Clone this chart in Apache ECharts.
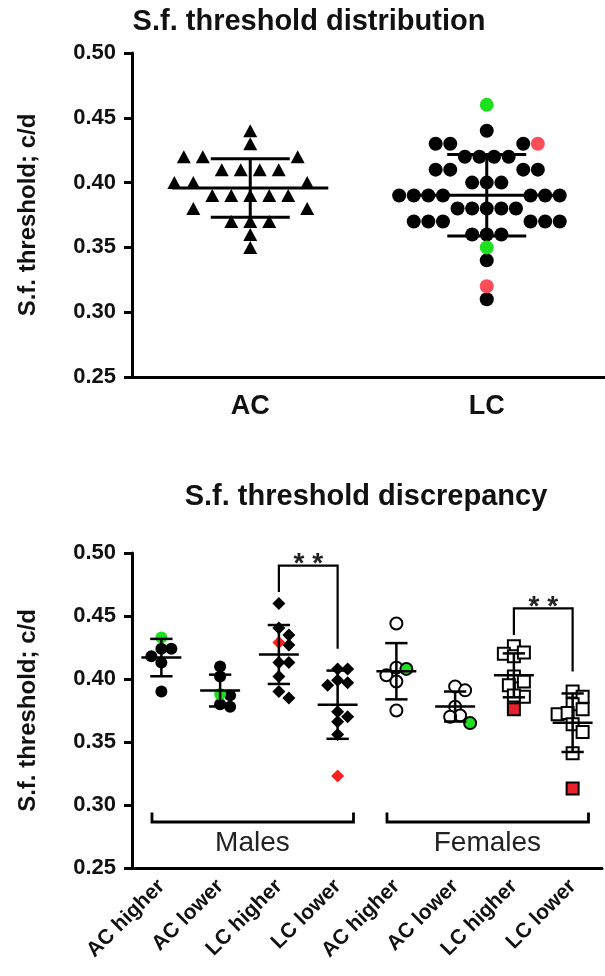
<!DOCTYPE html>
<html><head><meta charset="utf-8">
<script src="https://cdn.jsdelivr.net/npm/echarts@6/dist/echarts.min.js"></script>
<style>html,body{margin:0;padding:0;background:#fff}#c{width:605px;height:976px}</style>
</head><body><div id="c"></div>
<script>
// ================= DATA =================
var topTitle = 'S.f. threshold distribution';
var bottomTitle = 'S.f. threshold discrepancy';
var yAxisName = 'S.f. threshold; c/d';

var topCategories = ['AC', 'LC'];
var acValues = [0.44, 0.43, 0.42, 0.42, 0.42, 0.41, 0.41, 0.41, 0.41, 0.40, 0.40, 0.40,
                0.39, 0.39, 0.39, 0.39, 0.39, 0.38, 0.38, 0.37, 0.37, 0.37, 0.36, 0.35];
var lcBlack = [0.44, 0.43, 0.43, 0.43, 0.42, 0.42, 0.42, 0.42, 0.41, 0.41, 0.41, 0.41,
               0.40, 0.40, 0.40, 0.39, 0.39, 0.39, 0.39, 0.39, 0.39, 0.39,
               0.38, 0.38, 0.38, 0.38, 0.38, 0.37, 0.37, 0.37, 0.37, 0.37, 0.37,
               0.36, 0.36, 0.36, 0.34, 0.31];
var lcRed = [0.43, 0.32];
var lcGreen = [0.46, 0.35];

var discCategories = ['AC higher', 'AC lower', 'LC higher', 'LC lower',
                      'AC higher', 'AC lower', 'LC higher', 'LC lower'];
var sexGroups = ['Males', 'Females'];
var sexGroupRanges = [[0, 3], [4, 7]];
// per category: plain points, then highlighted points
var mAcHigher = [0.424, 0.424, 0.418, 0.413, 0.390];      var mAcHigherHi = [0.433];
var mAcLower  = [0.410, 0.402, 0.387, 0.378, 0.380];      var mAcLowerHi  = [0.388];
var mLcHigher = [0.460, 0.4405, 0.435, 0.427, 0.413, 0.413, 0.402, 0.390, 0.385]; var mLcHigherHi = [0.429];
var mLcLower  = [0.408, 0.408, 0.399, 0.397, 0.395, 0.374, 0.370, 0.366, 0.356]; var mLcLowerHi  = [0.323];
var fAcHigher = [0.444, 0.409, 0.403, 0.398, 0.375];      var fAcHigherHi = [0.408];
var fAcLower  = [0.394, 0.391, 0.378, 0.371, 0.370];      var fAcLowerHi  = [0.365];
var fLcHigher = [0.426, 0.420, 0.418, 0.421, 0.402, 0.398, 0.395, 0.386, 0.387]; var fLcHigherHi = [0.376];
var fLcLower  = [0.390, 0.386, 0.380, 0.376, 0.372, 0.373, 0.364, 0.358, 0.341]; var fLcLowerHi  = [0.313];
var sigComparisons = [[2, 3, '* *'], [6, 7, '* *']];

// ================= LAYOUT / STYLE =================
var FONT = '"Liberation Sans", Arial, sans-serif';
var G0 = {left: 132, top: 53, width: 486, height: 324};
var G1 = {left: 132, top: 553, width: 470, height: 315};
var YMIN = 0.25, YMAX = 0.50;

function mean(a){ var s = 0; a.forEach(function(v){ s += v; }); return s / a.length; }
function sd(a){ var m = mean(a), s = 0; a.forEach(function(v){ s += (v - m) * (v - m); }); return Math.sqrt(s / (a.length - 1)); }

// row-based dot-plot layout (returns x offsets in category units)
function rowLayout(vals, slotPx, bandPx){
  var m = mean(vals);
  var rows = {};
  vals.forEach(function(v, i){ var k = Math.round(v * 100); (rows[k] = rows[k] || []).push(i); });
  var meanKey = Math.round(m * 100);
  function isSplit(k){ return Math.abs(k - meanKey) % 2 === 0 && rows[k] && rows[k].length > 1; }
  function half(k){ var r = rows[k]; if (!r || isSplit(k)) return 0; return (r.length - 1) / 2 * slotPx; }
  var out = new Array(vals.length);
  Object.keys(rows).forEach(function(ks){
    var k = +ks, r = rows[k], n = r.length;
    if (!isSplit(k)) {
      r.forEach(function(i, j){ out[i] = (j - (n - 1) / 2) * slotPx / bandPx; });
    } else {
      var H = Math.max(half(k - 1), half(k + 1));
      var start = H + slotPx;
      r.forEach(function(i, j){
        var side = (j % 2 === 0) ? -1 : 1;
        out[i] = side * (start + Math.floor(j / 2) * slotPx) / bandPx;
      });
    }
  });
  return out;
}
// generic beeswarm (returns x offsets in category units)
function beeswarm(vals, pxY, bandPx, d){
  var idx = vals.map(function(v, i){ return i; }).sort(function(a, b){ return vals[b] - vals[a]; });
  var placed = [], out = new Array(vals.length);
  idx.forEach(function(i){
    var y = vals[i] * pxY;
    for (var k = 0; k < 400; k++) {
      var off = (k === 0) ? 0 : ((k % 2 === 1) ? 1 : -1) * Math.ceil(k / 2) * d / 2;
      var ok = placed.every(function(p){ var dx = p[0] - off, dy = p[1] - y; return dx * dx + dy * dy >= d * d * 0.999; });
      if (ok) { placed.push([off, y]); out[i] = off / bandPx; break; }
    }
  });
  return out;
}
function errRender(lw, mHalf, cHalf){
  return function(params, api){
    var x = api.value(0), m = api.value(1), s = api.value(2);
    var c = api.coord([x, m]), t = api.coord([x, m + s]), b = api.coord([x, m - s]);
    var u = api.size([1, 0])[0];
    var mw = mHalf * u, cw = cHalf * u;
    var st = {stroke: '#000', lineWidth: lw};
    return {type: 'group', children: [
      {type: 'line', shape: {x1: t[0], y1: t[1], x2: b[0], y2: b[1]}, style: st},
      {type: 'line', shape: {x1: c[0] - mw, y1: c[1], x2: c[0] + mw, y2: c[1]}, style: st},
      {type: 'line', shape: {x1: t[0] - cw, y1: t[1], x2: t[0] + cw, y2: t[1]}, style: st},
      {type: 'line', shape: {x1: b[0] - cw, y1: b[1], x2: b[0] + cw, y2: b[1]}, style: st}
    ]};
  };
}

var series = [];
// ---------- top chart ----------
var band0 = G0.width / topCategories.length;
(function(){
  var acOff = rowLayout(acValues, 19.5, band0);
  series.push({type: 'scatter', xAxisIndex: 1, yAxisIndex: 0, symbol: 'triangle', symbolSize: [14, 13],
    itemStyle: {color: '#000', opacity: 1}, z: 2,
    data: acValues.map(function(v, i){ return [0 + acOff[i], v]; })});
  var lcAll = lcBlack.concat(lcRed, lcGreen);
  var tags = lcBlack.map(function(){ return 'k'; }).concat(lcRed.map(function(){ return 'r'; }), lcGreen.map(function(){ return 'g'; }));
  var lcOff = rowLayout(lcAll, 15, band0);
  var cols = {k: '#000', r: '#ff4d57', g: '#1fe01f'};
  ['k', 'r', 'g'].forEach(function(t){
    series.push({type: 'scatter', xAxisIndex: 1, yAxisIndex: 0, symbol: 'circle', symbolSize: 14,
      itemStyle: {color: cols[t], opacity: 1}, z: 2,
      data: lcAll.map(function(v, i){ return tags[i] === t ? [1 + lcOff[i], v] : null; }).filter(Boolean)});
  });
  series.push({type: 'custom', xAxisIndex: 1, yAxisIndex: 0, z: 3, encode: {x: 0, y: 1},
    renderItem: errRender(3, 0.33, 0.167),
    data: [[0, mean(acValues), sd(acValues)], [1, mean(lcAll), sd(lcAll)]]});
})();

// ---------- bottom chart ----------
var band1 = G1.width / discCategories.length, pxY1 = G1.height / (YMAX - YMIN);
var discPlain = [mAcHigher, mAcLower, mLcHigher, mLcLower, fAcHigher, fAcLower, fLcHigher, fLcLower];
var discHi = [mAcHigherHi, mAcLowerHi, mLcHigherHi, mLcLowerHi, fAcHigherHi, fAcLowerHi, fLcHigherHi, fLcLowerHi];
var openStyle = {color: '#fff', borderColor: '#000', borderWidth: 2, opacity: 1};
var catStyle = [
  {symbol: 'circle', size: 12, plain: {color: '#000', opacity: 1}, hi: {color: '#1fe01f', opacity: 1}},
  {symbol: 'circle', size: 12, plain: {color: '#000', opacity: 1}, hi: {color: '#1fe01f', opacity: 1}},
  {symbol: 'diamond', size: 13, plain: {color: '#000', opacity: 1}, hi: {color: '#ff2020', opacity: 1}},
  {symbol: 'diamond', size: 13, plain: {color: '#000', opacity: 1}, hi: {color: '#ff2020', opacity: 1}},
  {symbol: 'circle', size: 12, plain: openStyle, hi: {color: '#1fe01f', borderColor: '#000', borderWidth: 2, opacity: 1}},
  {symbol: 'circle', size: 12, plain: openStyle, hi: {color: '#1fe01f', borderColor: '#000', borderWidth: 2, opacity: 1}},
  {symbol: 'rect', size: 12, plain: openStyle, hi: {color: '#e8222a', borderColor: '#000', borderWidth: 2, opacity: 1}},
  {symbol: 'rect', size: 12, plain: openStyle, hi: {color: '#e8222a', borderColor: '#000', borderWidth: 2, opacity: 1}}
];
var errData1 = [], groupMax = [];
discPlain.forEach(function(plain, ci){
  var all = plain.concat(discHi[ci]);
  var off = beeswarm(all, pxY1, band1, 10);
  var st = catStyle[ci];
  series.push({type: 'scatter', xAxisIndex: 3, yAxisIndex: 1, symbol: st.symbol, symbolSize: st.size,
    itemStyle: st.plain, z: 2,
    data: plain.map(function(v, i){ return [ci + off[i], v]; })});
  series.push({type: 'scatter', xAxisIndex: 3, yAxisIndex: 1, symbol: st.symbol, symbolSize: st.size,
    itemStyle: st.hi, z: 2,
    data: discHi[ci].map(function(v, j){ return [ci + off[plain.length + j], v]; })});
  errData1.push([ci, mean(all), sd(all)]);
  groupMax.push(Math.max.apply(null, all));
});
series.push({type: 'custom', xAxisIndex: 3, yAxisIndex: 1, z: 3, encode: {x: 0, y: 1},
  renderItem: errRender(2.5, 0.34, 0.19), data: errData1});

// significance brackets
series.push({type: 'custom', xAxisIndex: 3, yAxisIndex: 1, z: 4, encode: {x: 0, y: 2},
  data: sigComparisons.map(function(c, i){
    var a = c[0], b = c[1];
    return [a, b, Math.max(groupMax[a], groupMax[b]) + 0.03, groupMax[a] + 0.009, groupMax[b] + 0.016, i];
  }),
  renderItem: function(params, api){
    var a = api.value(0), b = api.value(1), top = api.value(2), la = api.value(3), lb = api.value(4);
    var label = sigComparisons[api.value(5)][2];
    var p1 = api.coord([a, la]), p2 = api.coord([a, top]), p3 = api.coord([b, top]), p4 = api.coord([b, lb]);
    return {type: 'group', children: [
      {type: 'polyline', shape: {points: [p1, p2, p3, p4]}, style: {stroke: '#000', lineWidth: 2.2, fill: null}},
      {type: 'text', x: (p2[0] + p3[0]) / 2, y: p2[1] - 1, style: {text: label, align: 'center', verticalAlign: 'middle',
        font: 'bold 28px ' + FONT, fill: '#222'}}
    ]};
  }});
// sex group brackets
series.push({type: 'custom', xAxisIndex: 3, yAxisIndex: 1, z: 4, encode: {x: 0, y: 2},
  data: sexGroupRanges.map(function(r, i){ return [r[0], r[1], 0.2865, i]; }),
  renderItem: function(params, api){
    var a = api.value(0) - 0.16, b = api.value(1) + 0.27, y = api.value(2);
    var name = sexGroups[api.value(3)];
    var p1 = api.coord([a, y + 0.0075]), p2 = api.coord([a, y]), p3 = api.coord([b, y]), p4 = api.coord([b, y + 0.0075]);
    var tp = api.coord([(api.value(0) + api.value(1)) / 2 + 0.05, y - 0.0165]);
    return {type: 'group', children: [
      {type: 'polyline', shape: {points: [p1, p2, p3, p4]}, style: {stroke: '#000', lineWidth: 2.8, fill: null}},
      {type: 'text', x: tp[0], y: tp[1], style: {text: name, align: 'center', verticalAlign: 'middle',
        font: '28px ' + FONT, fill: '#222'}}
    ]};
  }});

function yAxisCfg(gi){
  return {type: 'value', gridIndex: gi, min: YMIN, max: YMAX, interval: 0.05,
    name: yAxisName, nameLocation: 'middle', nameGap: 92,
    nameTextStyle: {fontFamily: FONT, fontWeight: 'bold', fontSize: 24, color: '#111'},
    axisLine: {show: true, onZero: false, lineStyle: {color: '#000', width: 3}},
    axisTick: {show: true, length: 8, lineStyle: {color: '#000', width: 3}},
    axisLabel: {margin: 16, fontFamily: FONT, fontWeight: 'bold', fontSize: 22, color: '#111',
      formatter: function(v){ return v.toFixed(2); }},
    splitLine: {show: false}};
}

var chart = echarts.init(document.getElementById('c'), null, {renderer: 'canvas'});
chart.setOption({
  animation: false,
  backgroundColor: '#fff',
  graphic: [
    {type: 'text', x: 309, y: 22, style: {text: topTitle, align: 'center', verticalAlign: 'middle', font: 'bold 29px ' + FONT, fill: '#111'}},
    {type: 'text', x: 366, y: 497, style: {text: bottomTitle, align: 'center', verticalAlign: 'middle', font: 'bold 29px ' + FONT, fill: '#111'}}
  ],
  grid: [G0, G1],
  xAxis: [
    {type: 'category', gridIndex: 0, data: topCategories,
      axisLine: {onZero: false, lineStyle: {color: '#000', width: 3}},
      axisTick: {alignWithLabel: true, length: 9, lineStyle: {color: '#000', width: 3}},
      axisLabel: {margin: 16, fontFamily: FONT, fontWeight: 'bold', fontSize: 27, color: '#111'}},
    {type: 'value', gridIndex: 0, min: -0.5, max: 1.5, show: false},
    {type: 'category', gridIndex: 1, data: discCategories,
      axisLine: {onZero: false, lineStyle: {color: '#000', width: 3}},
      axisTick: {alignWithLabel: true, length: 9, lineStyle: {color: '#000', width: 3}},
      axisLabel: {interval: 0, rotate: 45, margin: 15, fontFamily: FONT, fontWeight: 'bold', fontSize: 21, color: '#111'}},
    {type: 'value', gridIndex: 1, min: -0.5, max: 7.5, show: false}
  ],
  yAxis: [yAxisCfg(0), yAxisCfg(1)],
  series: series
});
</script></body></html>
